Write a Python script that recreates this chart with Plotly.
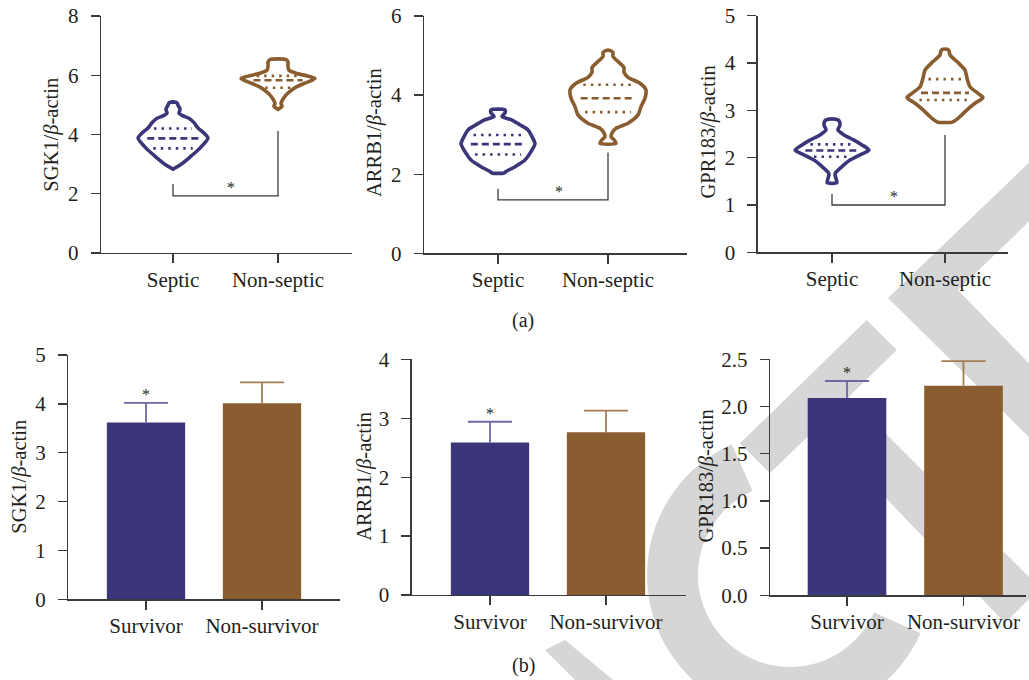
import plotly.graph_objects as go
import numpy as np

# ---------------- data ----------------
genes = ["SGK1", "ARRB1", "GPR183"]
top_groups = ["Septic", "Non-septic"]
bottom_groups = ["Survivor", "Non-survivor"]

# violin outlines: value levels and half-widths (fraction of category spacing)
sgk1_septic_lv = [2.83, 2.97, 3.24, 3.54, 3.88, 4.05, 4.22, 4.40, 4.55, 4.63, 4.72, 4.85, 4.99, 5.07, 5.10]
sgk1_septic_hw = [0, .067, .162, .257, .333, .295, .238, .2, .152, .095, .057, .067, .048, .038, 0]
sgk1_non_lv = [4.85, 4.95, 5.05, 5.20, 5.40, 5.60, 5.75, 5.89, 5.97, 6.07, 6.17, 6.30, 6.45, 6.53]
sgk1_non_hw = [0, .038, .029, .048, .095, .171, .267, .352, .286, .171, .105, .095, .095, .076]

arrb1_septic_lv = [2.03, 2.07, 2.19, 2.36, 2.57, 2.77, 2.95, 3.12, 3.25, 3.37, 3.46, 3.55, 3.62, 3.64]
arrb1_septic_hw = [.055, .073, .155, .245, .3, .336, .309, .273, .2, .127, .036, .064, .064, .045]
arrb1_non_lv = [2.78, 2.87, 2.95, 3.04, 3.16, 3.29, 3.50, 3.71, 3.92, 4.13, 4.30, 4.45, 4.58, 4.70, 4.85, 4.98, 5.08, 5.13]
arrb1_non_hw = [.073, .055, .027, .036, .073, .182, .273, .3, .336, .345, .291, .182, .145, .145, .091, .045, .045, .018]

gpr183_septic_lv = [1.47, 1.56, 1.66, 1.81, 1.95, 2.06, 2.16, 2.27, 2.37, 2.48, 2.59, 2.69, 2.78, 2.81]
gpr183_septic_hw = [.044, .035, .027, .088, .159, .248, .327, .265, .195, .106, .053, .071, .062, .035]
gpr183_non_lv = [2.75, 2.78, 2.87, 3.01, 3.15, 3.27, 3.36, 3.50, 3.68, 3.85, 4.03, 4.17, 4.26, 4.29]
gpr183_non_hw = [.062, .088, .133, .195, .265, .336, .292, .221, .195, .177, .106, .044, .035, .018]

# quartiles [Q1, median, Q3]
sgk1_septic_q = [3.53, 3.87, 4.20]
sgk1_non_q = [5.58, 5.83, 5.98]
arrb1_septic_q = [2.50, 2.76, 2.99]
arrb1_non_q = [3.57, 3.92, 4.26]
gpr183_septic_q = [2.02, 2.15, 2.28]
gpr183_non_q = [3.22, 3.37, 3.66]

# significance brackets: [left top, bottom, right top]
brackets = [[2.33, 1.93, 4.12], [1.63, 1.35, 2.55], [1.23, 1.00, 2.48]]

top_ymax = [8, 6, 5]
top_ydtick = [2, 2, 1]

# bar chart (b)
survivor_mean = [3.62, 2.59, 2.09]
survivor_err = [0.40, 0.35, 0.18]
nonsurvivor_mean = [4.01, 2.76, 2.22]
nonsurvivor_err = [0.43, 0.37, 0.26]
bottom_ymax = [5, 4, 2.5]
bottom_ydtick = [1, 1, 0.5]

# ---------------- styling / layout ----------------
BLUE = "#3b3679"
BROWN = "#8a5d30"
BLUE_ERR = "#6e67a6"
BROWN_ERR = "#a47c56"
AX = "#3a3a3a"
TXT = "#231f20"
WM = "#d6d6d6"
FONT = "Liberation Serif"
FS = 21
FS_T = 20.5

OFF = 0
W, H = 1029, 680


def px(x):
    return (x - OFF) / W


def py(y):
    return 1 - (y - OFF) / H


def pxc(x):
    return min(max(px(x), 0), 1)


def pyc(y):
    return min(max(py(y), 0), 1)


# pixel boxes in reference: (x_left, x_right, y_bottom, y_top, cat0_px, spacing_px)
boxes = [
    (101, 352, 253, 16, 173, 105),
    (424, 687, 253.3, 16, 498, 110),
    (757.7, 1008, 252.3, 15.7, 832, 113),
    (68.3, 340, 599.3, 355, 146, 116),
    (411.7, 686, 595, 359.3, 490, 116),
    (770, 1026, 595.3, 359.3, 847, 116.5),
]
title_pos = [(51.7, 135), (375, 133), (708, 132.5), (20, 476.7), (365, 476.7), (706.7, 475.8)]

fig = go.Figure()
layout = dict(
    width=W, height=H, margin=dict(l=0, r=0, t=0, b=0, autoexpand=False),
    plot_bgcolor="rgba(0,0,0,0)", paper_bgcolor="white", showlegend=False,
    font=dict(family=FONT, size=FS, color=TXT),
)
annotations = []

for i, (xl, xr, yb, yt, c0, sp) in enumerate(boxes):
    n = "" if i == 0 else str(i + 1)
    xr0 = (xl - c0) / sp
    xr1 = (xr - c0) / sp
    if i < 3:
        ymax, dt, labels = top_ymax[i], top_ydtick[i], top_groups
    else:
        ymax, dt, labels = bottom_ymax[i - 3], bottom_ydtick[i - 3], bottom_groups
    layout["xaxis" + n] = dict(
        domain=[pxc(xl), pxc(xr)], range=[xr0, xr1], anchor="y" + n, automargin=False,
        showline=True, linecolor=AX, linewidth=1.3, ticks="outside", ticklen=9,
        tickcolor=AX, tickwidth=1.3, tickvals=[0, 1], ticktext=labels,
        showgrid=False, zeroline=False, ticklabelstandoff=-2, ticklabeloverflow="allow",
        tickfont=dict(family=FONT, size=FS, color=TXT), fixedrange=True,
    )
    fmt = ".1f" if dt == 0.5 else "d"
    layout["yaxis" + n] = dict(
        domain=[pyc(yb), pyc(yt)], range=[0, ymax], anchor="x" + n, automargin=False,
        showline=True, linecolor=AX, linewidth=1.3, ticks="outside", ticklen=9,
        tickcolor=AX, tickwidth=1.3, dtick=dt, tick0=0, tickformat=fmt,
        showgrid=False, zeroline=False, ticklabelstandoff=8, ticklabeloverflow="allow",
        tickfont=dict(family=FONT, size=FS, color=TXT), fixedrange=True,
    )
    tx, ty = title_pos[i]
    annotations.append(dict(
        x=px(tx), y=py(ty), xref="paper", yref="paper", showarrow=False,
        text=genes[i % 3] + "/<i>β</i>-actin", textangle=-90,
        font=dict(family=FONT, size=FS_T, color=TXT), xanchor="center", yanchor="middle",
    ))

# ---- violins ----
violins = [
    [(sgk1_septic_lv, sgk1_septic_hw, sgk1_septic_q), (sgk1_non_lv, sgk1_non_hw, sgk1_non_q)],
    [(arrb1_septic_lv, arrb1_septic_hw, arrb1_septic_q), (arrb1_non_lv, arrb1_non_hw, arrb1_non_q)],
    [(gpr183_septic_lv, gpr183_septic_hw, gpr183_septic_q), (gpr183_non_lv, gpr183_non_hw, gpr183_non_q)],
]
for gi in range(3):
    n = "" if gi == 0 else str(gi + 1)
    for k, (lv, hw, q) in enumerate(violins[gi]):
        col = BLUE if k == 0 else BROWN
        lv = np.array(lv)
        hw = np.array(hw)
        xs = np.concatenate([k + hw, (k - hw)[::-1], [k + hw[0]]])
        ys = np.concatenate([lv, lv[::-1], [lv[0]]])
        fig.add_trace(go.Scatter(
            x=xs, y=ys, mode="lines", fill="toself", fillcolor="white",
            line=dict(color=col, width=3.6, shape="spline", smoothing=0.7),
            xaxis="x" + n, yaxis="y" + n, hoverinfo="skip",
        ))
        for j, qv in enumerate(q):
            w = float(np.interp(qv, lv, hw)) * 0.74
            fig.add_trace(go.Scatter(
                x=[k - w, k + w], y=[qv, qv], mode="lines",
                line=dict(color=col, width=2.6, dash="7px,4px" if j == 1 else "2.5px,5px"),
                xaxis="x" + n, yaxis="y" + n, hoverinfo="skip",
            ))
    # bracket
    lt, bt, rt = brackets[gi]
    fig.add_trace(go.Scatter(
        x=[0, 0, 1, 1], y=[lt, bt, bt, rt], mode="lines",
        line=dict(color=AX, width=1.3), xaxis="x" + n, yaxis="y" + n, hoverinfo="skip",
    ))
    annotations.append(dict(
        x=0.55, y=bt, xref="x" + n, yref="y" + n, text="*", showarrow=False,
        font=dict(family=FONT, size=16, color=TXT), yanchor="bottom", yshift=-2,
    ))

# ---- bars with one-sided error bars ----
CAP = 0.19
for gi in range(3):
    n = str(gi + 4)
    for k, (m, e, col, ecol) in enumerate([
        (survivor_mean[gi], survivor_err[gi], BLUE, BLUE_ERR),
        (nonsurvivor_mean[gi], nonsurvivor_err[gi], BROWN, BROWN_ERR),
    ]):
        fig.add_trace(go.Bar(
            x=[k], y=[m], width=0.675, marker=dict(color=col, line=dict(width=0)),
            xaxis="x" + n, yaxis="y" + n, hoverinfo="skip",
        ))
        fig.add_trace(go.Scatter(
            x=[k, k, None, k - CAP, k + CAP], y=[m, m + e, None, m + e, m + e],
            mode="lines", line=dict(color=ecol, width=1.8),
            xaxis="x" + n, yaxis="y" + n, hoverinfo="skip",
        ))
    annotations.append(dict(
        x=0, y=survivor_mean[gi] + survivor_err[gi], xref="x" + n, yref="y" + n,
        text="*", showarrow=False, font=dict(family=FONT, size=16, color=TXT),
        yanchor="bottom", yshift=-2,
    ))

annotations.append(dict(x=px(523), y=py(320), xref="paper", yref="paper", text="(a)",
                        xanchor="center", yanchor="middle",
                        showarrow=False, font=dict(family=FONT, size=20, color=TXT)))
annotations.append(dict(x=px(523), y=py(665), xref="paper", yref="paper", text="(b)",
                        xanchor="center", yanchor="middle",
                        showarrow=False, font=dict(family=FONT, size=20, color=TXT)))

# ---- light-grey background watermark strokes (decoration) ----
def poly_path(pts):
    return "M " + " L ".join(f"{px(x):.5f},{py(y):.5f}" for x, y in pts) + " Z"


wm_polys = [
    [(866.7, 320), (896.7, 350), (770, 473.3), (740, 443.3)],            # T bar
    [(833, 381), (1040, 588), (1005, 623), (803, 411)],                   # T stem
    [(888, 298), (1040, 152), (1040, 211), (958, 290), (1040, 375), (1040, 448)],  # E
    [(545, 650), (565, 640), (625, 690), (585, 690)],                     # A fragment
]
ang = np.radians(np.linspace(24, 246, 60))
cx, cy, r_in, r_out = 790, 575, 92, 143
ring = [(cx + r_out * np.cos(a), cy + r_out * np.sin(a)) for a in ang] + \
       [(cx + r_in * np.cos(a), cy + r_in * np.sin(a)) for a in ang[::-1]]
wm_polys.append(ring)                                                    # C

shapes = [dict(type="path", path=poly_path(p), xref="paper", yref="paper",
               fillcolor=WM, line=dict(width=0), layer="below") for p in wm_polys]

layout["annotations"] = annotations
layout["shapes"] = shapes
fig.update_layout(**layout)
fig.write_html(
    "out.html",
    config={"displayModeBar": False, "staticPlot": True},
    post_script="document.body.style.margin='0';document.body.style.overflow='hidden';",
)
